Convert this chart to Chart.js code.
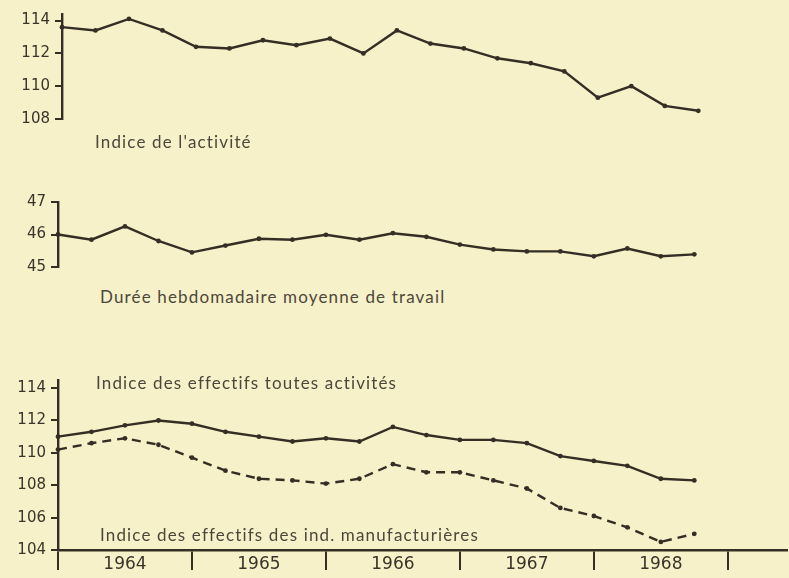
<!DOCTYPE html>
<html>
<head>
<meta charset="utf-8">
<script src="https://cdn.jsdelivr.net/npm/chart.js@4"></script>
<style>
  html, body { margin: 0; padding: 0; }
  body { width: 789px; height: 578px; background: #f6f1c9; position: relative; overflow: hidden; }
  .panel { position: absolute; left: 0; width: 789px; }
  .label { position: absolute; font-family: "Lato", sans-serif; font-size: 17px; color: #4d473b; white-space: nowrap; letter-spacing: 1.15px; }
</style>
</head>
<body>
<div class="panel" style="top:0px;height:133px"><canvas id="activityChart"></canvas></div>
<div class="panel" style="top:188px;height:93px"><canvas id="hoursChart"></canvas></div>
<div class="panel" style="top:366px;height:212px"><canvas id="staffChart"></canvas></div>

<div class="label" style="left:95px;top:131px">Indice de l'activité</div>
<div class="label" style="left:100px;top:286px">Durée hebdomadaire moyenne de travail</div>
<div class="label" style="left:96px;top:372px">Indice des effectifs toutes activités</div>
<div class="label" style="left:100px;top:524px">Indice des effectifs des ind. manufacturières</div>

<script>
  // ===== Data (quarterly, 1964 Q1 -> 1968 Q4) =====
  const years = ["1964", "1965", "1966", "1967", "1968"];
  const quarters = [0, 1, 2, 3, 4, 5, 6, 7, 8, 9, 10, 11, 12, 13, 14, 15, 16, 17, 18, 19];

  const activityIndex = [113.6, 113.4, 114.1, 113.4, 112.4, 112.3, 112.8, 112.5, 112.9, 112.0,
                         113.4, 112.6, 112.3, 111.7, 111.4, 110.9, 109.3, 110.0, 108.8, 108.5];
  const weeklyHours = [46.0, 45.84, 46.25, 45.8, 45.45, 45.66, 45.87, 45.84, 45.99, 45.84,
                       46.04, 45.93, 45.69, 45.54, 45.48, 45.48, 45.33, 45.57, 45.33, 45.39];
  const staffAll = [111.0, 111.3, 111.7, 112.0, 111.8, 111.3, 111.0, 110.7, 110.9, 110.7,
                    111.6, 111.1, 110.8, 110.8, 110.6, 109.8, 109.5, 109.2, 108.4, 108.3];
  const staffManuf = [110.2, 110.6, 110.9, 110.5, 109.7, 108.9, 108.4, 108.3, 108.1, 108.4,
                      109.3, 108.8, 108.8, 108.3, 107.8, 106.6, 106.1, 105.4, 104.5, 105.0];

  const activityTicks = [108, 110, 112, 114];
  const hoursTicks = [45, 46, 47];
  const staffTicks = [104, 106, 108, 110, 112, 114];

  // ===== Helpers =====
  const INK = "#352e25";
  const TEXT = "#3a342b";
  const PX_PER_QUARTER = 33.6;
  const WIDTH = 789;

  const toPoints = (values) => values.map((v, i) => ({ x: quarters[i], y: v }));

  function lineDataset(values, dashed) {
    return {
      data: toPoints(values),
      borderColor: INK,
      backgroundColor: INK,
      borderWidth: 2.4,
      borderDash: dashed ? [9, 6] : [],
      pointRadius: 2.4,
      pointHoverRadius: 2.4,
      pointBackgroundColor: INK,
      pointBorderWidth: 0,
      tension: 0,
      clip: false
    };
  }

  function yScale(min, max, ticks, axisWidth) {
    return {
      type: "linear",
      min: min,
      max: max,
      afterBuildTicks: (scale) => { scale.ticks = ticks.map(v => ({ value: v })); },
      afterFit: (scale) => { scale.width = axisWidth; },
      border: { display: true, color: INK, width: 2.4 },
      grid: { drawOnChartArea: false, color: INK, lineWidth: 2, tickLength: 7 },
      ticks: { color: TEXT, padding: 5, font: { family: "DejaVu Sans", size: 15 } }
    };
  }

  function hiddenX(axisLeft) {
    return { type: "linear", display: false, min: 0, max: (WIDTH - axisLeft) / PX_PER_QUARTER };
  }

  function makeChart(canvasId, datasets, scales, padding) {
    return new Chart(document.getElementById(canvasId), {
      type: "line",
      data: { datasets: datasets },
      options: {
        responsive: true,
        maintainAspectRatio: false,
        animation: false,
        layout: { padding: padding },
        plugins: { legend: { display: false }, tooltip: { enabled: false } },
        scales: scales
      }
    });
  }

  // ===== Charts =====
  makeChart("activityChart",
    [lineDataset(activityIndex, false)],
    { x: hiddenX(62), y: yScale(108, 114.4, activityTicks, 62) },
    { top: 9, bottom: 3, left: 0, right: 0 });

  makeChart("hoursChart",
    [lineDataset(weeklyHours, false)],
    { x: hiddenX(58), y: yScale(45, 47, hoursTicks, 58) },
    { top: 10, bottom: 3, left: 0, right: 0 });

  makeChart("staffChart",
    [lineDataset(staffAll, false), lineDataset(staffManuf, true)],
    {
      x: {
        type: "linear",
        min: 0,
        max: (WIDTH - 58) / PX_PER_QUARTER,
        afterBuildTicks: (scale) => {
          const t = [];
          for (let q = 0; q <= 20; q += 2) t.push({ value: q });
          scale.ticks = t;
        },
        afterFit: (scale) => { scale.height = 28; },
        border: { display: true, color: INK, width: 2.4 },
        grid: {
          drawOnChartArea: false,
          lineWidth: 2,
          tickLength: 20,
          color: (ctx) => (ctx.tick && ctx.tick.value % 4 === 0) ? INK : "rgba(0,0,0,0)"
        },
        ticks: {
          color: TEXT,
          padding: -16,
          maxRotation: 0,
          autoSkip: false,
          font: { family: "DejaVu Sans", size: 17 },
          callback: (value) => value % 4 === 2 ? years[(value - 2) / 4] : ""
        }
      },
      y: yScale(104, 114.5, staffTicks, 58)
    },
    { top: 9, bottom: 0, left: 0, right: 0 });
</script>
</body>
</html>
